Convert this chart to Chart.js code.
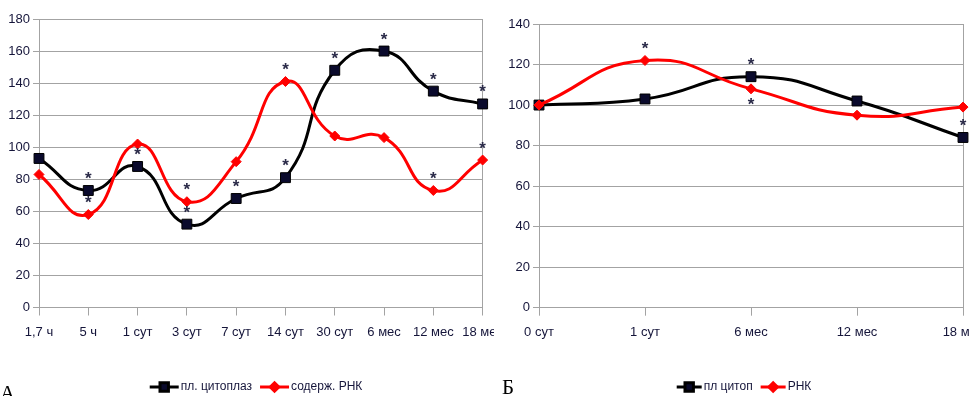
<!DOCTYPE html>
<html lang="ru">
<head>
<meta charset="utf-8">
<title>Цитоплазма и РНК</title>
<script src="https://cdn.jsdelivr.net/npm/chart.js@4"></script>
<style>
  html, body { margin: 0; padding: 0; background: #fff; width: 970px; height: 396px; overflow: hidden; }
  .panel { position: absolute; top: 0; height: 396px; background: #fff; }
  #panelA { left: 0; width: 512px; }
  #panelB { left: 494px; width: 500px; }
  .tag { position: absolute; font-family: 'Liberation Serif', 'DejaVu Serif', serif; font-size: 21px; color: #000; line-height: 1; }
</style>
</head>
<body>
<div class="panel" id="panelA">
  <canvas id="chartA" width="512" height="396"></canvas>
  <div class="tag" style="left:0px; top:383px;">А</div>
</div>
<div class="panel" id="panelB">
  <canvas id="chartB" width="500" height="396"></canvas>
  <div class="tag" style="left:8px; top:377px;">Б</div>
</div>
<script>
// Panel A: time points and values (% of control)
const leftCategories = ['1,7 ч', '5 ч', '1 сут', '3 сут', '7 сут', '14 сут', '30 сут', '6 мес', '12 мес', '18 мес'];
const leftCytoplasm = [93, 73, 88, 52, 68, 81, 148, 160, 135, 127];
const leftRna = [83, 58, 102, 66, 91, 141, 107, 106, 73, 92];
const leftCytoplasmSig = [0, 1, 1, 1, 1, 1, 1, 1, 1, 1];
const leftRnaSig = [0, 1, 0, 1, 0, 1, 0, 0, 1, 1];
const leftTicks = [0, 20, 40, 60, 80, 100, 120, 140, 160, 180];

// Panel Б
const rightCategories = ['0 сут', '1 сут', '6 мес', '12 мес', '18 мес'];
const rightCytoplasm = [100, 103, 114, 102, 84];
const rightRna = [100, 122, 108, 95, 99];
const rightCytoplasmSig = [0, 0, 1, 0, 1];
const rightRnaSig = [0, 1, 1, 0, 0];
const rightTicks = [0, 20, 40, 60, 80, 100, 120, 140];

const labelFont = "'Liberation Sans', Arial, sans-serif";
const gridGray = '#a3a3a3';
const ink = '#15153a';

// Excel-style key: short line with the series marker in its middle
const seriesKeyPlugin = {
  id: 'seriesKey',
  afterDraw(chart, args, opts) {
    const ctx = chart.ctx;
    ctx.save();
    ctx.font = opts.font;
    ctx.textBaseline = 'middle';
    ctx.textAlign = 'left';
    const items = chart.data.datasets.map(ds => ({ ds, w: ctx.measureText(ds.label).width }));
    const total = items.reduce((s, it) => s + opts.lineLength + opts.textGap + it.w, 0) + opts.itemGap * (items.length - 1);
    let x = opts.x - total / 2;
    items.forEach(it => {
      const ds = it.ds;
      ctx.strokeStyle = ds.borderColor;
      ctx.lineWidth = ds.borderWidth;
      ctx.beginPath();
      ctx.moveTo(x, opts.y);
      ctx.lineTo(x + opts.lineLength, opts.y);
      ctx.stroke();
      ctx.fillStyle = ds.pointBackgroundColor;
      ctx.strokeStyle = ds.pointBorderColor;
      Chart.helpers.drawPoint(ctx, { pointStyle: ds.pointStyle, radius: ds.pointRadius * opts.markerScale, borderWidth: 1, rotation: 0 }, x + opts.lineLength / 2, opts.y);
      ctx.fillStyle = opts.color;
      ctx.fillText(ds.label, x + opts.lineLength + opts.textGap, opts.y);
      x += opts.lineLength + opts.textGap + it.w + opts.itemGap;
    });
    ctx.restore();
  }
};

// Asterisks over significant points; placed under the point when another series sits just above it
const significancePlugin = {
  id: 'significance',
  afterDatasetsDraw(chart, args, opts) {
    const ctx = chart.ctx;
    ctx.save();
    ctx.font = opts.font;
    ctx.fillStyle = opts.color;
    ctx.textAlign = 'center';
    ctx.textBaseline = 'alphabetic';
    const m = ctx.measureText('*');
    const mid = (m.actualBoundingBoxAscent - m.actualBoundingBoxDescent) / 2;
    chart.data.datasets.forEach((ds, di) => {
      if (!ds.significant) return;
      const pts = chart.getDatasetMeta(di).data;
      ds.significant.forEach((flag, i) => {
        if (!flag) return;
        const p = pts[i];
        const crowded = chart.data.datasets.some((o, oi) => {
          if (oi === di) return false;
          const q = chart.getDatasetMeta(oi).data[i];
          return q && p.y - q.y > 0 && p.y - q.y < opts.clearance;
        });
        const cy = crowded ? p.y + opts.below : p.y - opts.above;
        ctx.fillText('*', p.x, cy + mid);
      });
    });
    ctx.restore();
  }
};

function seriesStyle(kind) {
  if (kind === 'cyto') {
    return {
      borderColor: '#000000', borderWidth: 3,
      pointStyle: 'rect', pointRadius: 7, pointHoverRadius: 7,
      pointBackgroundColor: '#0a0a2c', pointBorderColor: '#000000', pointBorderWidth: 1,
      order: 1
    };
  }
  return {
    borderColor: '#ff0000', borderWidth: 3,
    pointStyle: 'rectRot', pointRadius: 5, pointHoverRadius: 5,
    pointBackgroundColor: '#ff0000', pointBorderColor: '#ff0000', pointBorderWidth: 1,
    order: 0
  };
}

function buildChart(canvasId, cfg) {
  const lastIndex = cfg.categories.length - 1;
  return new Chart(document.getElementById(canvasId), {
    type: 'line',
    data: {
      labels: cfg.categories,
      datasets: [
        Object.assign({ label: cfg.names[0], data: cfg.cyto, significant: cfg.cytoSig }, seriesStyle('cyto')),
        Object.assign({ label: cfg.names[1], data: cfg.rna, significant: cfg.rnaSig }, seriesStyle('rna'))
      ]
    },
    options: {
      responsive: false,
      animation: false,
      events: [],
      elements: { line: { tension: 0.5, cubicInterpolationMode: 'default' } },
      layout: { padding: cfg.padding },
      plugins: {
        legend: { display: false },
        tooltip: { enabled: false },
        seriesKey: { x: cfg.keyX, y: 387, font: '12px ' + labelFont, color: ink, lineLength: cfg.keyLine, textGap: 2, itemGap: 8, markerScale: 0.85 },
        significance: { font: 'bold 17px "Liberation Sans", sans-serif', color: '#2a2a48', above: 15, below: 13, clearance: 16 }
      },
      scales: {
        x: {
          offset: false,
          afterFit(scale) { scale.height = 40; },
          grid: {
            drawOnChartArea: true,
            color: c => (c.index === lastIndex ? gridGray : 'rgba(0,0,0,0)'),
            tickColor: gridGray,
            tickLength: 8,
            lineWidth: 1
          },
          border: { display: true, color: gridGray },
          ticks: { font: { family: labelFont, size: 13 }, color: ink, padding: 9, maxRotation: 0, autoSkip: false }
        },
        y: {
          min: 0,
          max: cfg.ticks[cfg.ticks.length - 1],
          afterFit(scale) { scale.width = cfg.yWidth; },
          afterBuildTicks(scale) { scale.ticks = cfg.ticks.map(v => ({ value: v })); },
          grid: { color: gridGray, tickColor: gridGray, tickLength: 6, lineWidth: 1 },
          border: { display: true, color: gridGray },
          ticks: { font: { family: labelFont, size: 13 }, color: ink, padding: 3 }
        }
      }
    },
    plugins: [seriesKeyPlugin, significancePlugin]
  });
}

buildChart('chartA', {
  categories: leftCategories,
  cyto: leftCytoplasm, rna: leftRna,
  cytoSig: leftCytoplasmSig, rnaSig: leftRnaSig,
  ticks: leftTicks,
  names: ['пл. цитоплаз', 'содерж. РНК'],
  padding: { left: 0, right: 24, top: 19, bottom: 48.5 },
  yWidth: 39,
  keyX: 256, keyLine: 29
});

buildChart('chartB', {
  categories: rightCategories,
  cyto: rightCytoplasm, rna: rightRna,
  cytoSig: rightCytoplasmSig, rnaSig: rightRnaSig,
  ticks: rightTicks,
  names: ['пл цитоп', 'РНК'],
  padding: { left: 0, right: 31, top: 24, bottom: 48.3 },
  yWidth: 45,
  keyX: 250, keyLine: 25
});
</script>
</body>
</html>
